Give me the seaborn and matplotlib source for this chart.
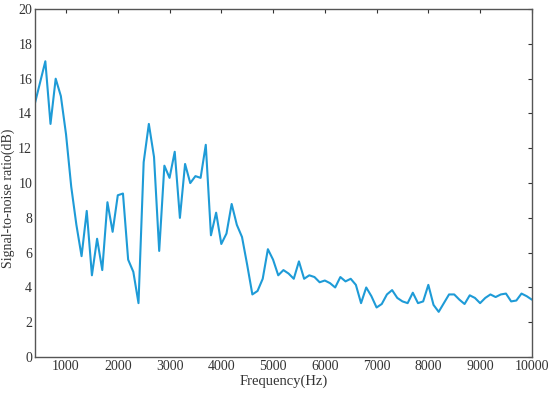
import numpy as np
import pandas as pd
import matplotlib
matplotlib.use("Agg")
import matplotlib.pyplot as plt
import seaborn as sns

freq = list(range(400, 10001, 100))
snr = [14.6, 15.8, 17.0, 13.4, 16.0, 15.0, 12.8, 9.8, 7.6, 5.8,
       8.4, 4.7, 6.8, 5.0, 8.9, 7.2, 9.3, 9.4, 5.6, 4.9,
       3.1, 11.2, 13.4, 11.5, 6.1, 11.0, 10.3, 11.8, 8.0, 11.1,
       10.0, 10.4, 10.3, 12.2, 7.0, 8.3, 6.5, 7.1, 8.8, 7.6,
       6.9, 5.3, 3.6, 3.8, 4.5, 6.2, 5.6, 4.7, 5.0, 4.8,
       4.5, 5.5, 4.5, 4.7, 4.6, 4.3, 4.4, 4.25, 4.0, 4.6,
       4.35, 4.5, 4.15, 3.1, 4.0, 3.5, 2.85, 3.05, 3.6, 3.85,
       3.4, 3.2, 3.1, 3.7, 3.1, 3.2, 4.15, 3.0, 2.6, 3.1,
       3.6, 3.6, 3.3, 3.05, 3.55, 3.4, 3.1, 3.4, 3.6, 3.45,
       3.6, 3.65, 3.2, 3.25, 3.65, 3.5, 3.3]
xticks = [1000, 2000, 3000, 4000, 5000, 6000, 7000, 8000, 9000, 10000]
yticks = list(range(0, 21, 2))

df = pd.DataFrame({"freq": freq, "snr": snr})

sns.set_style("white")
plt.rcParams['font.family'] = ['Liberation Serif', 'DejaVu Serif']

fig = plt.figure(figsize=(5.5, 3.95), dpi=100)
ax = fig.add_axes([0.0636, 0.096, 0.9034, 0.881])
sns.lineplot(data=df, x="freq", y="snr", ax=ax, color="#1E9BD7", linewidth=1.5)

ax.set_xlim(400, 10000)
ax.set_ylim(0, 20)
ax.set_xticks(xticks)
ax.set_yticks(yticks)
ax.tick_params(direction="in", length=3, width=0.8, top=True, right=True,
               labelsize=10, colors="#333333", labelcolor="#333333", pad=2)
for s in ax.spines.values():
    s.set_color("#555555")
    s.set_linewidth(1.0)
ax.set_xlabel("Frequency(Hz)", fontsize=10.5, color="#333333", labelpad=1)
ax.set_ylabel("Signal-to-noise ratio(dB)", fontsize=10, color="#333333")
ax.yaxis.set_label_coords(-0.041, 0.455)

fig.savefig("out.png", dpi=100)
